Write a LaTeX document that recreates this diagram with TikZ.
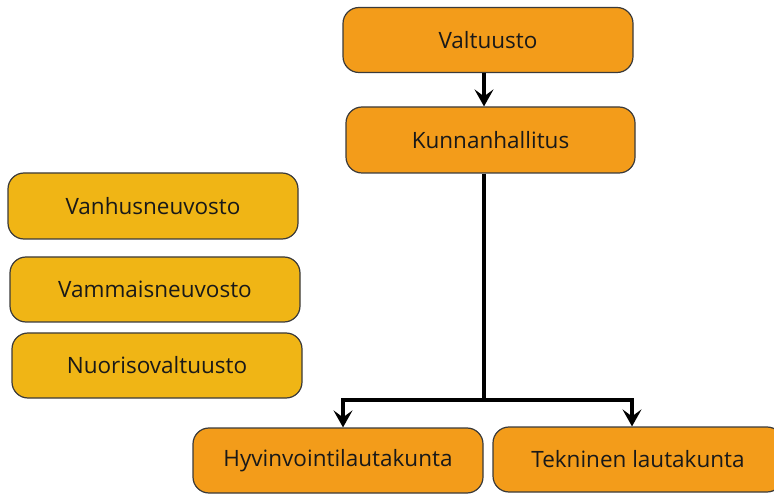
\documentclass[tikz,border=0pt]{standalone}
\usepackage{fontspec}
\setmainfont{Open Sans}
\usetikzlibrary{arrows.meta}
\definecolor{boxorange}{HTML}{F39C1A}
\definecolor{boxgold}{HTML}{F0B515}
\definecolor{edge}{HTML}{3A3A3A}
\tikzset{
  orgbox/.style={draw=edge, line width=1.2pt, rounded corners=16pt, minimum width=290pt, minimum height=65pt, inner sep=0pt, font=\fontsize{22.5}{26}\selectfont, text=black!90},
  mainbox/.style={orgbox, fill=boxorange},
  sidebox/.style={orgbox, fill=boxgold},
  conn/.style={line width=4pt, -{Stealth[length=17pt, width=19pt, inset=7pt]}}
}
\begin{document}
\begin{tikzpicture}[x=1pt,y=-1pt]
\useasboundingbox (0,0) rectangle (774,494);
\node[mainbox] (valt) at (488,40) {Valtuusto};
\node[mainbox, minimum width=289pt, minimum height=66pt] (khall) at (490.5,140) {Kunnanhallitus};
\node[sidebox, minimum height=66pt] (vanh) at (153,206) {Vanhusneuvosto};
\node[sidebox] (vamm) at (155,289.5) {Vammaisneuvosto};
\node[sidebox] (nuor) at (157,365.5) {Nuorisovaltuusto};
\node[mainbox] (hyv) at (338,460.5) {Hyvinvointilautakunta};
\node[mainbox] (tekn) at (638,459.5) {Tekninen lautakunta};
\coordinate (j) at (484,400);
\draw[conn] ([xshift=-4pt]valt.south) -- ([xshift=-6.5pt]khall.north);
\draw[line width=4pt] ([xshift=-6.5pt]khall.south) -- (j);
\draw[conn] (j) -| ([xshift=5pt]hyv.north);
\draw[conn] (j) -| ([xshift=-6pt]tekn.north);
\end{tikzpicture}
\end{document}
